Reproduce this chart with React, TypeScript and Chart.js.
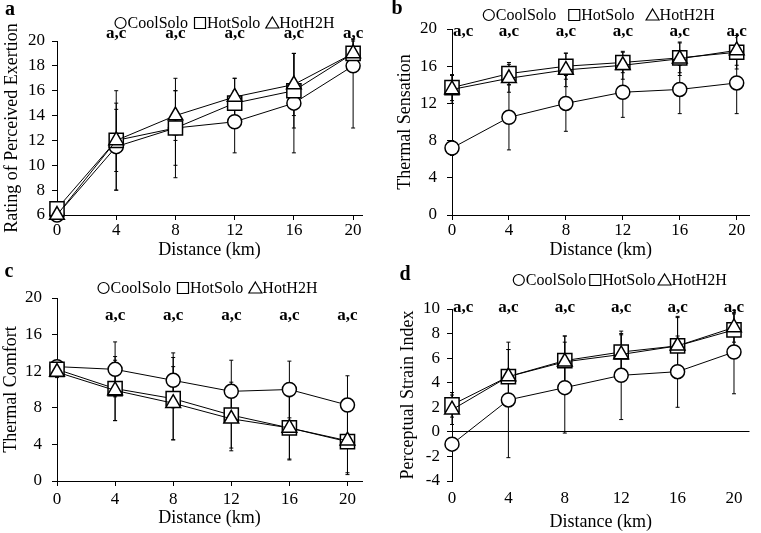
import React, { useEffect, useRef } from 'react';
import { Chart, registerables } from 'chart.js';

Chart.register(...registerables);

const SERIF = '"Liberation Serif", "Times New Roman", serif';
Chart.defaults.font.family = SERIF;
Chart.defaults.color = '#000';

// ---------------- DATA ----------------
const distances = [0, 4, 8, 12, 16, 20];
const seriesNames = ['CoolSolo', 'HotSolo', 'HotH2H'];
const annotationText = 'a,c';

// a: Rating of Perceived Exertion
const rpeCool = [6, 11.5, 13, 13.5, 15, 18];
const rpeHot = [6.5, 12, 13, 15, 16, 19];
const rpeH2H = [6, 12, 14, 15.5, 16.5, 19];
const rpeCoolSd = [0, 3.5, 3, 2.5, 4, 5];
const rpeHotSd = [0.5, 4, 4, 2, 3, 1.5];
const rpeH2HSd = [0.5, 2.5, 2, 1.5, 2.5, 1];
const rpeAnnotX = [4, 8, 12, 16, 20];

// b: Thermal Sensation
const tsCool = [7.2, 10.5, 12, 13.2, 13.5, 14.2];
const tsHot = [13.7, 15.2, 16, 16.4, 16.9, 17.5];
const tsH2H = [13.5, 14.7, 15.6, 16.1, 16.8, 17.7];
const tsCoolSd = [0.8, 3.5, 3, 2.7, 2.6, 3.3];
const tsHotSd = [1.4, 1.2, 1.4, 1.1, 1.6, 1.8];
const tsH2HSd = [1.5, 1.5, 1.8, 1.5, 1.8, 1.6];
const tsAnnotX = [0, 4, 8, 12, 16, 20];

// c: Thermal Comfort
const tcCool = [12.5, 12.2, 11, 9.8, 10, 8.3];
const tcHot = [12.2, 10.1, 9, 7.2, 5.8, 4.3];
const tcH2H = [11.9, 9.9, 8.5, 6.8, 5.8, 4.4];
const tcCoolSd = [0.5, 3, 3, 3.4, 3.1, 3.2];
const tcHotSd = [0.6, 3.5, 4.5, 3.6, 3.4, 3.6];
const tcH2HSd = [0.6, 3.3, 4, 3.5, 3.5, 3.5];
const tcAnnotX = [4, 8, 12, 16, 20];

// d: Perceptual Strain Index
const psiCool = [-1, 2.6, 3.6, 4.6, 4.9, 6.5];
const psiHot = [2.2, 4.5, 5.8, 6.5, 7.0, 8.3];
const psiH2H = [1.8, 4.5, 5.7, 6.3, 7.0, 8.5];
const psiCoolSd = [0.5, 4.7, 3.7, 3.6, 2.9, 3.4];
const psiHotSd = [1, 2.2, 2, 1.5, 2.3, 1.3];
const psiH2HSd = [1.2, 2.2, 2.1, 1.6, 2.4, 1.2];
const psiAnnotX = [0, 4, 8, 12, 16, 20];

// ---------------- PANELS ----------------
type Panel = {
  letter: string;
  left: number; top: number; width: number; height: number;
  yTitle: string; yMin: number; yMax: number; yStep: number; xMax: number;
  values: number[][]; errors: number[][];
  annotX: number[]; annotY: number;
  pad: { left: number; right: number; top: number; bottom: number };
  yW: number; xH: number; yTickPad: number; xTickPad: number; xTitlePadB: number;
  legendY: number; legendGap: number; legendDx: number;
  letterX: number; letterY: number;
  zeroLine: boolean;
};

const panels: Panel[] = [
  {
    letter: 'a', left: 0, top: 0, width: 380, height: 260,
    yTitle: 'Rating of Perceived Exertion', yMin: 6, yMax: 20, yStep: 2, xMax: 20.6,
    values: [rpeCool, rpeHot, rpeH2H], errors: [rpeCoolSd, rpeHotSd, rpeH2HSd],
    annotX: rpeAnnotX, annotY: 20.6,
    pad: { left: 1, right: 18, top: 41, bottom: 2 }, yW: 56, xH: 43, yTickPad: 7, xTickPad: 0, xTitlePadB: -3,
    legendY: 23, legendGap: 6, legendDx: 15, letterX: 10, letterY: 10, zeroLine: false,
  },
  {
    letter: 'b', left: 380, top: 0, width: 381, height: 260,
    yTitle: 'Thermal Sensation', yMin: 0, yMax: 20, yStep: 4, xMax: 20.9,
    values: [tsCool, tsHot, tsH2H], errors: [tsCoolSd, tsHotSd, tsH2HSd],
    annotX: tsAnnotX, annotY: 19.7,
    pad: { left: 14, right: 6, top: 29, bottom: 1 }, yW: 58, xH: 44, yTickPad: 10, xTickPad: 0, xTitlePadB: -2,
    legendY: 15, legendGap: 12, legendDx: -2, letterX: 17, letterY: 9, zeroLine: false,
  },
  {
    letter: 'c', left: 0, top: 260, width: 380, height: 273,
    yTitle: 'Thermal Comfort', yMin: 0, yMax: 20, yStep: 4, xMax: 21.0,
    values: [tcCool, tcHot, tcH2H], errors: [tcCoolSd, tcHotSd, tcH2HSd],
    annotX: tcAnnotX, annotY: 18.1,
    pad: { left: 0, right: 18, top: 38, bottom: 4 }, yW: 57, xH: 48, yTickPad: 10, xTickPad: 3, xTitlePadB: 0,
    legendY: 28, legendGap: 6, legendDx: -2, letterX: 9, letterY: 12, zeroLine: false,
  },
  {
    letter: 'd', left: 380, top: 260, width: 381, height: 273,
    yTitle: 'Perceptual Strain Index', yMin: -4, yMax: 10, yStep: 2, xMax: 21.1,
    values: [psiCool, psiHot, psiH2H], errors: [psiCoolSd, psiHotSd, psiH2HSd],
    annotX: psiAnnotX, annotY: 10.15,
    pad: { left: 17, right: 1, top: 49, bottom: 0 }, yW: 55, xH: 52, yTickPad: 7, xTickPad: 2, xTitlePadB: 0,
    legendY: 20, legendGap: 3, legendDx: 19, letterX: 25, letterY: 15, zeroLine: true,
  },
];

const pointStyles = ['circle', 'rect', 'triangle'];
const pointRadii = [7, 10, 8.5];
const drawOrder = [2, 1, 0];

// ---------------- PLUGINS ----------------
const errorBarPlugin = {
  id: 'errorBars',
  beforeDatasetsDraw(chart: any) {
    const { ctx, chartArea, scales } = chart;
    const x = scales.x, y = scales.y;
    ctx.save();
    ctx.strokeStyle = '#000';
    ctx.lineWidth = 1;
    chart.data.datasets.forEach((ds: any) => {
      const errs: number[] = ds.errors;
      if (!errs) return;
      ds.data.forEach((pt: any, i: number) => {
        const e = errs[i];
        if (!e) return;
        const px = x.getPixelForValue(pt.x);
        const top = Math.max(chartArea.top - 2, y.getPixelForValue(pt.y + e));
        const bot = Math.min(chartArea.bottom, y.getPixelForValue(pt.y - e));
        ctx.beginPath();
        ctx.moveTo(px, top); ctx.lineTo(px, bot);
        ctx.moveTo(px - 2, top); ctx.lineTo(px + 2, top);
        ctx.moveTo(px - 2, bot); ctx.lineTo(px + 2, bot);
        ctx.stroke();
      });
    });
    ctx.restore();
  },
};

function drawMarker(ctx: CanvasRenderingContext2D, style: string, cx: number, cy: number) {
  ctx.beginPath();
  if (style === 'circle') {
    ctx.arc(cx, cy, 5.5, 0, Math.PI * 2);
  } else if (style === 'rect') {
    ctx.rect(cx - 5.5, cy - 5.5, 11, 11);
  } else {
    ctx.moveTo(cx, cy - 6);
    ctx.lineTo(cx + 6.5, cy + 5);
    ctx.lineTo(cx - 6.5, cy + 5);
    ctx.closePath();
  }
  ctx.fillStyle = '#fff';
  ctx.fill();
  ctx.stroke();
}

const decorPlugin = {
  id: 'decor',
  afterDraw(chart: any, _args: any, opts: any) {
    const { ctx, chartArea, scales } = chart;
    const x = scales.x, y = scales.y;
    ctx.save();
    // panel letter
    ctx.fillStyle = '#000';
    ctx.font = `bold 20px ${SERIF}`;
    ctx.textAlign = 'center';
    ctx.textBaseline = 'middle';
    ctx.fillText(opts.letter, opts.letterX, opts.letterY);

    // significance annotations
    ctx.font = `bold 17px ${SERIF}`;
    (opts.annotX as number[]).forEach((v) => {
      const px = x.getPixelForValue(v);
      const py = y.getPixelForValue(opts.annotY);
      if (v === x.min) {
        ctx.textAlign = 'left';
        ctx.fillText(annotationText, px + 1, py);
      } else {
        ctx.textAlign = 'center';
        ctx.fillText(annotationText, px, py);
      }
    });

    // legend
    ctx.font = `16px ${SERIF}`;
    ctx.textAlign = 'left';
    const m = 12;
    const items = chart.data.datasets.map((ds: any) => ({
      label: ds.label as string,
      style: ds.pointStyle as string,
      w: ctx.measureText(ds.label).width,
    }));
    const total = items.reduce((s: number, it: any) => s + m + 1 + it.w, 0) + opts.legendGap * (items.length - 1);
    let lx = (chartArea.left + chartArea.right) / 2 + opts.legendDx - total / 2;
    const ly = opts.legendY;
    ctx.strokeStyle = '#000';
    ctx.lineWidth = 1.2;
    items.forEach((it: any) => {
      drawMarker(ctx, it.style, lx + m / 2, ly);
      ctx.fillStyle = '#000';
      ctx.fillText(it.label, lx + m + 1, ly + 1);
      lx += m + 1 + it.w + opts.legendGap;
    });
    ctx.restore();
  },
};

// ---------------- CHART ----------------
function buildConfig(p: Panel): any {
  const tickFont = { family: SERIF, size: 17 };
  const titleFont = { family: SERIF, size: 18 };
  return {
    type: 'line',
    data: {
      datasets: seriesNames.map((name, si) => ({
        label: name,
        data: distances.map((d, i) => ({ x: d, y: p.values[si][i] })),
        errors: p.errors[si],
        borderColor: '#000',
        borderWidth: 1,
        pointStyle: pointStyles[si],
        pointRadius: pointRadii[si],
        pointBackgroundColor: '#fff',
        pointBorderColor: '#000',
        pointBorderWidth: 1.5,
        clip: false,
        order: drawOrder[si],
        tension: 0,
      })),
    },
    options: {
      responsive: false,
      animation: false,
      layout: { padding: p.pad },
      plugins: {
        legend: { display: false },
        tooltip: { enabled: false },
        decor: {
          letter: p.letter, letterX: p.letterX, letterY: p.letterY,
          annotX: p.annotX, annotY: p.annotY,
          legendY: p.legendY, legendGap: p.legendGap, legendDx: p.legendDx,
        },
      },
      scales: {
        x: {
          type: 'linear',
          min: 0,
          max: p.xMax,
          ticks: { stepSize: 4, includeBounds: false, font: tickFont, color: '#000', padding: p.xTickPad, maxRotation: 0 },
          grid: {
            drawOnChartArea: false,
            tickLength: 5,
            tickColor: p.zeroLine ? 'rgba(0,0,0,0)' : '#000',
          },
          border: { display: !p.zeroLine, color: '#000', width: 1 },
          title: { display: true, text: 'Distance (km)', font: titleFont, color: '#000', padding: { top: 0, bottom: p.xTitlePadB } },
          afterFit: (s: any) => { s.height = p.xH; },
        },
        y: {
          type: 'linear',
          min: p.yMin,
          max: p.yMax,
          ticks: { stepSize: p.yStep, includeBounds: false, font: tickFont, color: '#000', padding: p.yTickPad },
          grid: {
            drawOnChartArea: p.zeroLine,
            color: (c: any) => (p.zeroLine && c.tick && c.tick.value === 0 ? '#000' : 'rgba(0,0,0,0)'),
            tickColor: '#000',
            tickLength: 5,
            lineWidth: 1,
          },
          border: { display: true, color: '#000', width: 1 },
          title: { display: true, text: p.yTitle, font: titleFont, color: '#000', padding: { top: 0, bottom: 0 } },
          afterFit: (s: any) => { s.width = p.yW; },
        },
      },
    },
    plugins: [errorBarPlugin, decorPlugin],
  };
}

function PanelChart({ p }: { p: Panel }) {
  const ref = useRef<HTMLCanvasElement>(null);
  useEffect(() => {
    const chart = new Chart(ref.current as HTMLCanvasElement, buildConfig(p));
    return () => chart.destroy();
  }, [p]);
  return (
    <div style={{ position: 'absolute', left: p.left, top: p.top, width: p.width, height: p.height }}>
      <canvas ref={ref} width={p.width} height={p.height} style={{ display: 'block' }} />
    </div>
  );
}

export default function App() {
  return (
    <div style={{ position: 'absolute', left: 0, top: 0, width: 761, height: 533, background: '#fff', overflow: 'hidden' }}>
      {panels.map((p) => (
        <PanelChart key={p.letter} p={p} />
      ))}
    </div>
  );
}
